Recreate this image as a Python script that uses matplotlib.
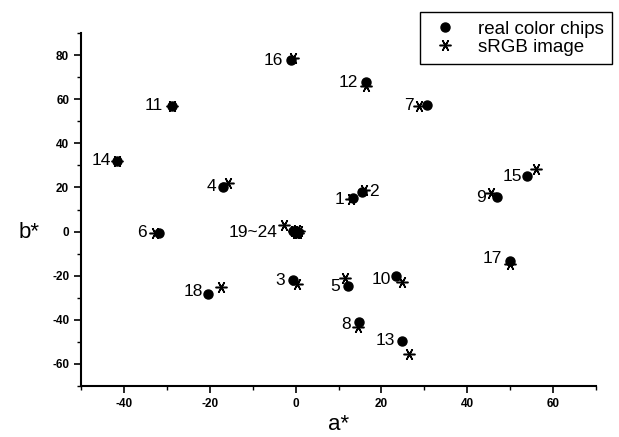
import numpy as np
from matplotlib import pyplot as plt
from matplotlib.ticker import MultipleLocator

plt.rcParams['font.family'] = ['Liberation Sans', 'DejaVu Sans']
plt.rcParams['axes.unicode_minus'] = False

# CIE a*, b* of the 24 chart patches
chip_ids = ['1', '2', '3', '4', '5', '6', '7', '8', '9', '10', '11', '12',
            '13', '14', '15', '16', '17', '18']
chip_a = [13.3, 15.5, -0.6, -16.8, 12.3, -31.8, 30.7, 14.7, 46.9, 23.4, -28.8, 16.4,
          24.8, -41.6, 53.9, -1.0, 50.0, -20.5]
chip_b = [15.0, 18.0, -21.8, 20.3, -24.5, -0.6, 57.3, -41.2, 15.6, -20.3, 57.0, 67.6,
          -49.5, 32.0, 25.1, 77.7, -13.2, -28.2]
srgb_a = [12.8, 15.9, 0.4, -15.7, 11.6, -32.8, 28.8, 14.5, 45.5, 24.7, -28.8, 16.5,
          26.4, -41.6, 56.0, -0.5, 50.0, -17.4]
srgb_b = [14.9, 19.0, -23.6, 21.8, -21.0, -0.5, 56.7, -43.3, 17.6, -22.9, 57.0, 65.8,
          -55.5, 32.0, 28.5, 78.5, -14.7, -25.1]

# neutral patches 19~24
grey_chip_a = [0.3, -0.2, 0.5, 0.0, -0.5, 0.2]
grey_chip_b = [-0.3, 0.2, 0.0, -0.5, 0.3, 0.4]
grey_srgb_a = [-2.6, 0.5, -0.3, 0.8, 0.0, 0.3]
grey_srgb_b = [2.9, -0.5, 0.2, 0.3, -0.8, 0.5]

# label offsets in pixels from the chip point (dx, dy, ha)
label_pos = {
    '1': (-8, -1, 'right'), '2': (7, 0, 'left'), '3': (-8, -1, 'right'),
    '4': (-7, 0, 'right'), '5': (-8, -1, 'right'), '6': (-12, 0, 'right'),
    '7': (-14, 0, 'right'), '8': (-8, -2, 'right'), '9': (-11, 0, 'right'),
    '10': (-5, -3, 'right'), '11': (-9, 0, 'right'), '12': (-8, 0, 'right'),
    '13': (-7, 0, 'right'), '14': (-6, 0, 'right'), '15': (-5, 0, 'right'),
    '16': (-8, 0, 'right'), '17': (-8, 2, 'right'), '18': (-5, 2, 'right'),
}

fig = plt.figure(figsize=(6.19, 4.37), dpi=100)
ax = fig.add_axes([81 / 619, 51 / 437, 515 / 619, 353 / 437])

star = (6, 2, 90)
ax.plot(chip_a + grey_chip_a, chip_b + grey_chip_b, 'o', color='black',
        markersize=6.5, label='real color chips', zorder=3)
ax.plot(srgb_a + grey_srgb_a, srgb_b + grey_srgb_b, linestyle='none', marker=star,
        color='black', markersize=8.5, markeredgewidth=1.1, label='sRGB image', zorder=3)

for name, a, b in zip(chip_ids, chip_a, chip_b):
    dx, dy, ha = label_pos[name]
    ax.annotate(name, (a, b), xytext=(dx, dy), textcoords='offset pixels',
                ha=ha, va='center', fontsize=12.5)
ax.annotate('19~24', (0, 0), xytext=(-18, -1), textcoords='offset pixels',
            ha='right', va='center', fontsize=12.5)

ax.set_xlim(-50, 70)
ax.set_ylim(-70, 90)
ax.xaxis.set_minor_locator(MultipleLocator(10))
ax.yaxis.set_minor_locator(MultipleLocator(10))
ax.set_xticks([-40, -20, 0, 20, 40, 60])
ax.set_yticks([-60, -40, -20, 0, 20, 40, 60, 80])
ax.tick_params(which='major', direction='out', length=5, width=1.2, labelsize=8.5)
ax.tick_params(which='minor', direction='out', length=3, width=1.0)
for lbl in ax.get_xticklabels() + ax.get_yticklabels():
    lbl.set_fontweight('bold')

for side in ['top', 'right']:
    ax.spines[side].set_visible(False)
for side in ['left', 'bottom']:
    ax.spines[side].set_linewidth(1.5)

ax.set_xlabel('a*', fontsize=16, labelpad=3)
ax.set_ylabel('b*', fontsize=16, rotation=0, va='center', ha='center')
ax.yaxis.set_label_coords(-0.1, 0.436)

fig.legend(loc='upper right', bbox_to_anchor=(612 / 619, 1 - 12 / 437),
           borderaxespad=0, fancybox=False, edgecolor='black', framealpha=1,
           fontsize=13.5, handlelength=1.85, handletextpad=0.8, labelspacing=0.05,
           borderpad=0.45)

fig.savefig('out.png', dpi=100)
